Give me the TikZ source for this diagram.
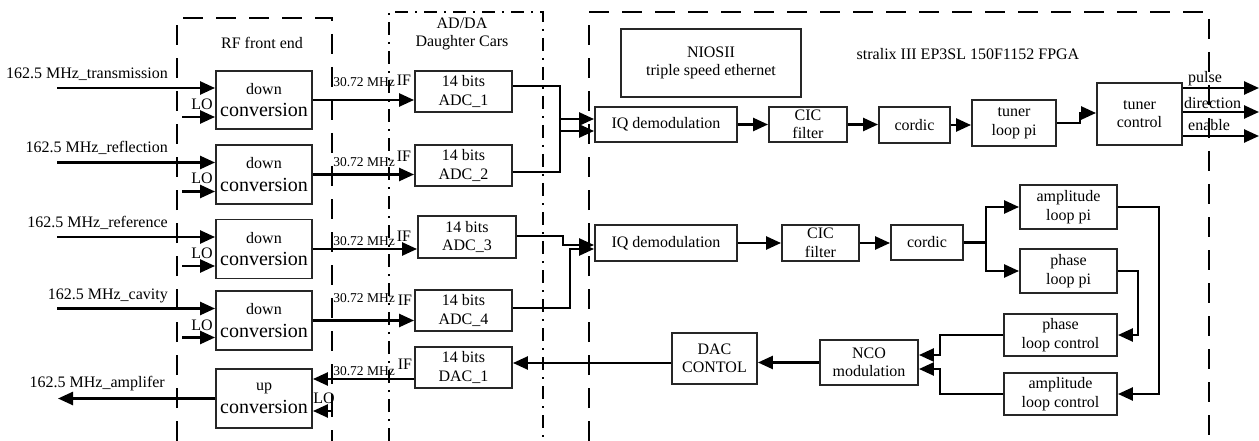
\documentclass[tikz,border=0pt]{standalone}
\usepackage{fontspec}
\setmainfont{Liberation Serif}
\usetikzlibrary{arrows.meta}
\begin{document}
\begin{tikzpicture}[x=1pt,y=-1pt,
  blk/.style={draw=black!85, line width=1.9pt, inner sep=0pt, align=center,
    font=\fontsize{16}{18.5}\selectfont},
  sig/.style={line width=2.5pt, -{Triangle[length=15pt,width=13pt]}},
  wire/.style={line width=2.5pt},
  lbl/.style={inner sep=0pt, font=\fontsize{16}{18.5}\selectfont},
  sml/.style={inner sep=0pt, font=\fontsize{13.5}{15}\selectfont},
  grpdash/.style={line width=2.8pt, dash pattern=on 20pt off 13pt},
  grpdot/.style={line width=2.4pt, dash pattern=on 13pt off 7pt on 2pt off 7pt},
]
\path[use as bounding box] (0,0) rectangle (1259,441);

% group outlines
\draw[grpdash] (177,441) -- (177,18) -- (332,18) -- (332,441);
\draw[grpdot]  (389,441) -- (389,12) -- (543,12) -- (543,441);
\draw[grpdash] (589,441) -- (589,12) -- (1209,12) -- (1209,441);

\node[lbl] (rfttl) at (262,43) {RF front end};
\node[lbl, align=center] (adttl) at (462,34) {AD/DA\\Daughter Cars};
\node[lbl] (fpttl) at (968,54) {stralix III EP3SL 150F1152 FPGA};

% RF front end
\newcommand{\convtext}[1]{#1\\[4pt]\fontsize{20}{22}\selectfont conversion}
\node[blk, minimum width=96pt, minimum height=58pt] (dc1) at (264,100)   {\convtext{down}};
\node[blk, minimum width=96pt, minimum height=59pt] (dc2) at (264,174.5) {\convtext{down}};
\node[blk, minimum width=96pt, minimum height=59pt] (dc3) at (264,249)   {\convtext{down}};
\node[blk, minimum width=96pt, minimum height=59pt] (dc4) at (264,320.5) {\convtext{down}};
\node[blk, minimum width=96pt, minimum height=59pt] (upc) at (264,398.5) {\convtext{up}};

% AD/DA daughter card
\node[blk, minimum width=97pt, minimum height=41pt] (adc1) at (463.5,91.5)  {14 bits\\ADC\_1};
\node[blk, minimum width=97pt, minimum height=41pt] (adc2) at (463.5,165.5) {14 bits\\ADC\_2};
\node[blk, minimum width=98pt, minimum height=42pt] (adc3) at (467,237)     {14 bits\\ADC\_3};
\node[blk, minimum width=97pt, minimum height=41pt] (adc4) at (463.5,310.5) {14 bits\\ADC\_4};
\node[blk, minimum width=97pt, minimum height=41pt] (dac1) at (463.5,367.5) {14 bits\\DAC\_1};

% FPGA
\node[blk, minimum width=180pt, minimum height=68pt] (nios) at (711,63) {NIOSII\\triple speed ethernet};
\node[blk, minimum width=142pt, minimum height=35pt] (iq1) at (666,124.5) {IQ demodulation};
\node[blk, minimum width=142pt, minimum height=36pt] (iq2) at (666,243)   {IQ demodulation};
\node[blk, minimum width=78pt, minimum height=35pt] (cic1) at (808,124.5)  {CIC\\filter};
\node[blk, minimum width=77pt, minimum height=36pt] (cic2) at (820.5,243)  {CIC\\filter};
\node[blk, minimum width=71pt, minimum height=36pt] (cor1) at (914.5,125)  {cordic};
\node[blk, minimum width=72pt, minimum height=35pt] (cor2) at (927,242.5)  {cordic};
\node[blk, minimum width=84pt, minimum height=46pt] (tlp) at (1014,123)    {tuner\\loop pi};
\node[blk, minimum width=85pt, minimum height=62pt] (tctl) at (1139.5,114) {tuner\\control};
\node[blk, minimum width=97pt, minimum height=44pt] (alp) at (1068.5,207)  {amplitude\\loop pi};
\node[blk, minimum width=97pt, minimum height=44pt] (plp) at (1068.5,271)  {phase\\loop pi};
\node[blk, minimum width=113pt, minimum height=42pt] (plc) at (1060.5,335) {phase\\loop control};
\node[blk, minimum width=113pt, minimum height=42pt] (alc) at (1060.5,394) {amplitude\\loop control};
\node[blk, minimum width=98pt, minimum height=45pt] (nco) at (869,362.5)   {NCO\\modulation};
\node[blk, minimum width=85pt, minimum height=51pt] (dacc) at (714.5,358.5) {DAC\\CONTOL};

% RF inputs and LO feeds
\foreach \b/\t/\yb in {dc1/transmission/79, dc2/reflection/153, dc3/reference/227, dc4/cavity/299}{
  \coordinate (\b in) at (57,0 |- \b.center);
  \draw[sig] ([yshift=12pt]\b in) -- ([yshift=12pt]\b.west);
  \coordinate (\b lo) at (182,0 |- \b.center);
  \draw[sig] ([yshift=-17pt]\b lo) -- ([yshift=-17pt]\b.west);
  \node[lbl, anchor=base east] (\b name) at (168,\yb) {162.5 MHz\_\t};
  \node[lbl, anchor=base] (\b lolbl) at ([yshift=-9.5pt]202,0 |- \b.center) {LO};
}

% IF links to the converters
\draw[sig] (dc1.east) -- (dc1.east -| adc1.west);
\draw[sig] (dc2.east) -- (dc2.east -| adc2.west);
\draw[sig] (dc3.east) -- (dc3.east -| adc3.west);
\draw[sig] (dc4.east) -- (dc4.east -| adc4.west);
\coordinate (dacout) at ([yshift=-11.5pt]dac1.west);
\draw[sig] (dacout) -- (dacout -| upc.east);
\foreach \y/\n in {82/a,162/b,241/c,298/d,371/e}{
  \node[sml, anchor=base] (mhz\n) at (364,\y+4.5) {30.72 MHz};
}
\foreach \x/\y/\n in {404/80/a,404/156/b,404/236/c,405/300/d,405/364/e}{
  \node[lbl, anchor=base] (if\n) at (\x,\y+5.5) {IF};
}

% up converter: output and LO
\coordinate (amp) at (58,0 |- upc.center);
\draw[sig] (upc.west) -- (amp);
\node[lbl, anchor=base east] (ampname) at (165,387) {162.5 MHz\_amplifer};
\coordinate (uplo) at (332,394);
\draw[sig] (uplo) |- ([yshift=-12.5pt]upc.east);
\node[lbl, anchor=base] (uplolbl) at (324,403.5) {LO};

% ADC outputs into the IQ demodulators
\draw[sig] ([yshift=5.5pt]adc1.east) -| (560,111) |- ([yshift=-6.5pt]iq1.west);
\draw[sig] ([yshift=-6.5pt]adc2.east) -| (560,137) |- ([yshift=5.5pt]iq1.west);
\draw[sig] ([yshift=1pt]adc3.east) -| (563,240) |- ([yshift=-2pt]iq2.west);
\draw[sig] ([yshift=2.5pt]adc4.east) -| (570,252) |- ([yshift=-6pt]iq2.west);

% tuner chain
\draw[sig] (iq1.east) -- (iq1.east -| cic1.west);
\draw[sig] (cic1.east) -- (cic1.east -| cor1.west);
\draw[sig] (cor1.east) -- (cor1.east -| tlp.west);
\draw[sig] (tlp.east) -| (1080,113) -- (1080,113 -| tctl.west);
\foreach \y/\t/\x/\ly in {88/pulse/1188/77, 112/direction/1184/103, 136/enable/1188/125}{
  \coordinate (out\t) at (1259,\y);
  \draw[sig] (tctl.east |- out\t) -- (out\t);
  \node[lbl, anchor=base west] (lbl\t) at (\x,\ly+5.5) {\t};
}

% field loop chain
\draw[sig] (iq2.east) -- (iq2.east -| cic2.west);
\draw[sig] (cic2.east) -- (cic2.east -| cor2.west);
\coordinate (split) at (986,0 |- cor2.east);
\draw[wire] (cor2.east) -- (split);
\draw[sig] (split) |- (alp.west);
\draw[sig] (split) |- (plp.west);
\draw[sig] (alp.east) -| (1159,394) -- (alc.east);
\draw[sig] (plp.east) -| (1138,335) -- (plc.east);
\draw[sig] (plc.west) -| (940,355) -- (940,355 -| nco.east);
\draw[sig] (alc.west) -| (940,369) -- (940,369 -| nco.east);
\draw[sig] (nco.west) -- (nco.west -| dacc.east);
\draw[sig] ([yshift=-4.5pt]dacc.west) -- ([yshift=-4.5pt]dacc.west -| dac1.east);

\end{tikzpicture}
\end{document}
